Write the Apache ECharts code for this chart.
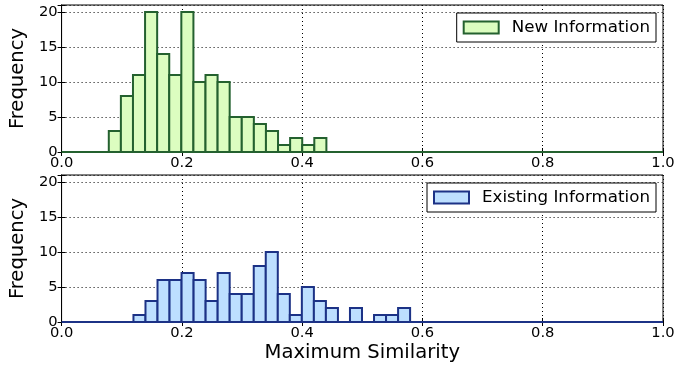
<!DOCTYPE html>
<html>
<head>
<meta charset="utf-8">
<script src="https://cdn.jsdelivr.net/npm/echarts@6/dist/echarts.min.js"></script>
<style>
html, body { margin: 0; padding: 0; background: #fff; }
#myChart { width: 678px; height: 368px; }
</style>
</head>
<body>
<div id="myChart"></div>
<script>
// histogram counts
const newInfoCounts = [3, 8, 11, 20, 14, 11, 20, 10, 11, 10, 5, 5, 4, 3, 1, 2, 1, 2]
const newInfoBinStart = 0.0785
const newInfoBinWidth = 0.0201

const existingCounts = [1, 3, 6, 6, 7, 6, 3, 7, 4, 4, 8, 10, 4, 1, 5, 3, 2, 0, 2, 0, 1, 1, 2]
const existingBinStart = 0.1195
const existingBinWidth = 0.0200

const xTicks = [0, 0.2, 0.4, 0.6, 0.8, 1.0]
const yTicks = [0, 5, 10, 15, 20]

const font = 'DejaVu Sans'

function toBins(start, width, counts) {
	return counts.map((c, i) => [start + i * width, start + (i + 1) * width, c])
}

function histSeries(name, idx, bins, fill, edge) {
	return {
		name: name,
		type: 'custom',
		xAxisIndex: idx * 2,
		yAxisIndex: idx * 2,
		itemStyle: { color: fill, borderColor: edge, borderWidth: 2 },
		encode: { x: [0, 1], y: 2 },
		data: bins,
		z: 3,
		renderItem: function (params, api) {
			const p0 = api.coord([api.value(0), api.value(2)])
			const p1 = api.coord([api.value(1), 0])
			return {
				type: 'rect',
				shape: { x: p0[0], y: p0[1], width: p1[0] - p0[0], height: p1[1] - p0[1] },
				style: { fill: fill, stroke: edge, lineWidth: 2 }
			}
		}
	}
}

function baseLine(idx, color) {
	return {
		type: 'line',
		xAxisIndex: idx * 2,
		yAxisIndex: idx * 2,
		data: [[0, 0], [1, 0]],
		symbol: 'none',
		silent: true,
		lineStyle: { color: color, width: 2 },
		z: 4
	}
}

function xAxes(gridIndex, withName) {
	return [{
		type: 'value', gridIndex: gridIndex, min: 0, max: 1, interval: 0.2,
		name: withName ? 'Maximum Similarity' : '',
		nameLocation: 'middle', nameGap: 21,
		nameTextStyle: { fontFamily: font, fontSize: 19.6, color: '#000' },
		axisLine: { show: true, lineStyle: { color: '#000', width: 1 } },
		axisTick: { show: true, inside: true, length: 4, lineStyle: { color: '#000' } },
		axisLabel: { fontFamily: font, fontSize: 14.7, color: '#000', margin: 4,
			formatter: v => v.toFixed(1) },
		splitLine: { show: true, lineStyle: { color: '#000', type: [1, 3], width: 1 } }
	}, {
		type: 'value', gridIndex: gridIndex, min: 0, max: 1, interval: 0.2, position: 'top',
		axisLine: { show: true, lineStyle: { color: '#000', width: 1 } },
		axisTick: { show: true, inside: true, length: 4, lineStyle: { color: '#000' } },
		axisLabel: { show: false },
		splitLine: { show: false }
	}]
}

function yAxes(gridIndex) {
	return [{
		type: 'value', gridIndex: gridIndex, min: 0, max: 21, interval: 5,
		name: 'Frequency', nameLocation: 'middle', nameGap: 26,
		nameTextStyle: { fontFamily: font, fontSize: 19.6, color: '#000' },
		axisLine: { show: true, lineStyle: { color: '#000', width: 1 } },
		axisTick: { show: true, inside: true, length: 4, lineStyle: { color: '#000' } },
		axisLabel: { fontFamily: font, fontSize: 14.7, color: '#000', margin: 4,
			formatter: v => (yTicks.indexOf(v) >= 0 ? String(v) : '') },
		splitLine: { show: true, lineStyle: { color: '#000', type: [1, 3], width: 1 } }
	}, {
		type: 'value', gridIndex: gridIndex, min: 0, max: 21, interval: 5, position: 'right',
		axisLine: { show: true, lineStyle: { color: '#000', width: 1 } },
		axisTick: { show: true, inside: true, length: 4, lineStyle: { color: '#000' } },
		axisLabel: { show: false },
		splitLine: { show: false }
	}]
}

function legendFor(name, top, fill, edge) {
	return {
		right: 22, top: top,
		orient: 'vertical',
		backgroundColor: '#fff',
		borderColor: '#000', borderWidth: 1, borderRadius: 0,
		padding: [6, 6, 6, 6],
		itemWidth: 35, itemHeight: 12,
		textStyle: { fontFamily: font, fontSize: 16.7, color: '#000', padding: [0, 0, 0, 8] },
		data: [{ name: name, icon: 'rect', itemStyle: { color: fill, borderColor: edge, borderWidth: 2 } }],
		selectedMode: false
	}
}

const greenFill = '#dcfdc0'
const greenEdge = '#24612f'
const blueFill = '#bddfff'
const blueEdge = '#1c3286'

const option = {
	animation: false,
	backgroundColor: '#fff',
	grid: [
		{ left: 60, right: 15, top: 5, height: 147, show: true, borderColor: '#000', borderWidth: 1, backgroundColor: 'transparent' },
		{ left: 60, right: 15, top: 175, height: 147, show: true, borderColor: '#000', borderWidth: 1, backgroundColor: 'transparent' }
	],
	xAxis: [...xAxes(0, false), ...xAxes(1, true)],
	yAxis: [...yAxes(0), ...yAxes(1)],
	legend: [
		legendFor('New Information', 13, greenFill, greenEdge),
		legendFor('Existing Information', 183, blueFill, blueEdge)
	],
	series: [
		baseLine(0, greenEdge),
		histSeries('New Information', 0, toBins(newInfoBinStart, newInfoBinWidth, newInfoCounts), greenFill, greenEdge),
		baseLine(1, blueEdge),
		histSeries('Existing Information', 1, toBins(existingBinStart, existingBinWidth, existingCounts), blueFill, blueEdge)
	]
}

const myChart = echarts.init(document.getElementById('myChart'))
myChart.setOption(option)
</script>
</body>
</html>
